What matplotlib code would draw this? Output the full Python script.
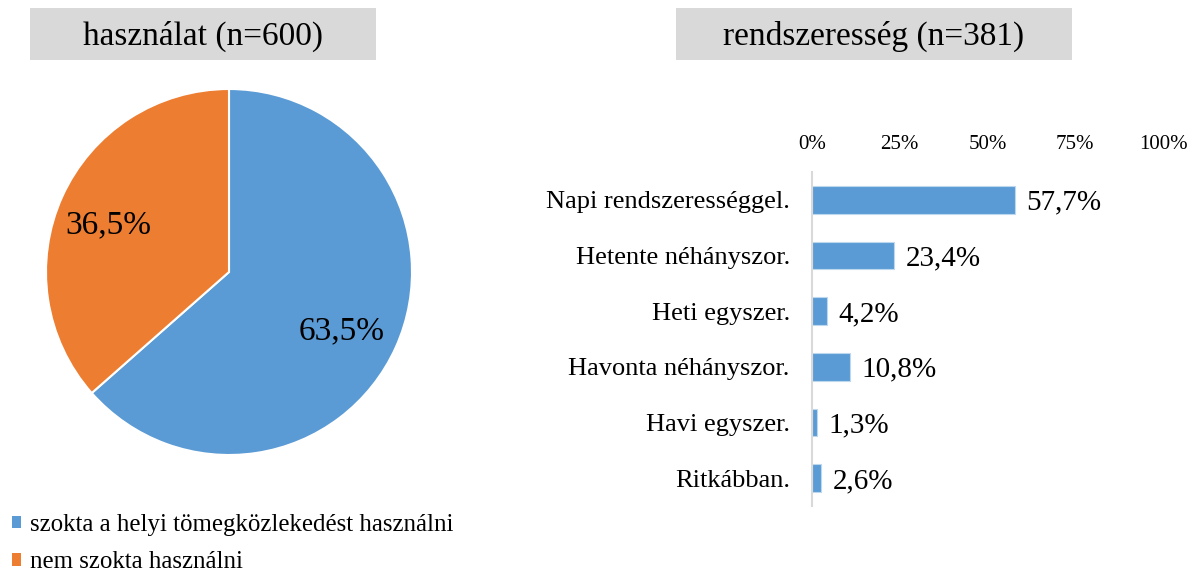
import matplotlib
matplotlib.use('Agg')
import matplotlib.pyplot as plt
from matplotlib.patches import Rectangle, Patch

plt.rcParams['font.family'] = ['Liberation Serif', 'DejaVu Serif']

# Data
pie_labels = ['szokta a helyi tömegközlekedést használni', 'nem szokta használni']
pie_values = [63.5, 36.5]
pie_colors = ['#5B9BD5', '#ED7D31']

bar_categories = ['Napi rendszerességgel.', 'Hetente néhányszor.', 'Heti egyszer.',
                  'Havonta néhányszor.', 'Havi egyszer.', 'Ritkábban.']
bar_values = [57.7, 23.4, 4.2, 10.8, 1.3, 2.6]
bar_ticks = [0, 25, 50, 75, 100]

W, H = 1198, 574
fig = plt.figure(figsize=(W / 100, H / 100), dpi=100)

def fx(px):
    return px / W

def fy(py):
    return 1 - py / H

# Title boxes
for (x0, x1, title) in [(30, 376, 'használat (n=600)'), (676, 1072, 'rendszeresség (n=381)')]:
    fig.patches.append(Rectangle((fx(x0), fy(60)), fx(x1) - fx(x0), fy(8) - fy(60),
                                 transform=fig.transFigure, facecolor='#D9D9D9',
                                 edgecolor='none', zorder=0))
    fig.text(fx((x0 + x1) / 2), fy(36), title, ha='center', va='center', fontsize=24)

# Pie chart
cx, cy, r = 229, 272, 183
ax_pie = fig.add_axes([fx(cx - r), fy(cy + r), fx(2 * r), fy(cy - r) - fy(cy + r)])
wedges, texts, autotexts = ax_pie.pie(
    pie_values, colors=pie_colors, startangle=90, counterclock=False,
    autopct=lambda p: f'{p:.1f}%'.replace('.', ','), pctdistance=0.70,
    wedgeprops=dict(edgecolor='white', linewidth=1.5),
    textprops=dict(fontsize=24, color='black'))
# nudge the percentage labels a little, like Excel places them
for t in autotexts:
    x, y = t.get_position()
    t.set_position((x - 0.022, y - 0.033))
ax_pie.set_xlim(-1, 1)
ax_pie.set_ylim(-1, 1)

fig.legend(handles=[Patch(facecolor=c, edgecolor='none') for c in pie_colors],
           labels=pie_labels, loc='upper left', bbox_to_anchor=(fx(12), fy(514)),
           frameon=False, fontsize=17.9, handlelength=0.38, handleheight=0.38,
           handletextpad=0.35, labelspacing=0.62, borderpad=0, borderaxespad=0)

# Bar chart
ax_bar = fig.add_axes([fx(812), fy(506), fx(1163) - fx(812), fy(172) - fy(506)])
ypos = list(range(len(bar_categories)))
ax_bar.barh(ypos, bar_values, height=0.5, color='#5B9BD5', edgecolor='#BDD7EE', linewidth=0.8)
for y, v in zip(ypos, bar_values):
    ax_bar.annotate(f'{v:.1f}%'.replace('.', ','), (v, y), xytext=(8.5, -2),
                    textcoords='offset points', ha='left', va='center', fontsize=21)
ax_bar.set_xlim(0, 100)
ax_bar.set_ylim(5.5, -0.5)
ax_bar.set_yticks(ypos)
ax_bar.set_yticklabels(bar_categories, fontsize=19)
ax_bar.set_xticks(bar_ticks)
ax_bar.set_xticklabels([f'{t}%' for t in bar_ticks], fontsize=15)
ax_bar.xaxis.tick_top()
ax_bar.tick_params(axis='x', length=0, pad=13)
ax_bar.tick_params(axis='y', length=0, pad=16)
for s in ['top', 'right', 'bottom']:
    ax_bar.spines[s].set_visible(False)
ax_bar.spines['left'].set_color('#D9D9D9')
ax_bar.spines['left'].set_linewidth(1.5)

fig.savefig('out.png', dpi=100)
